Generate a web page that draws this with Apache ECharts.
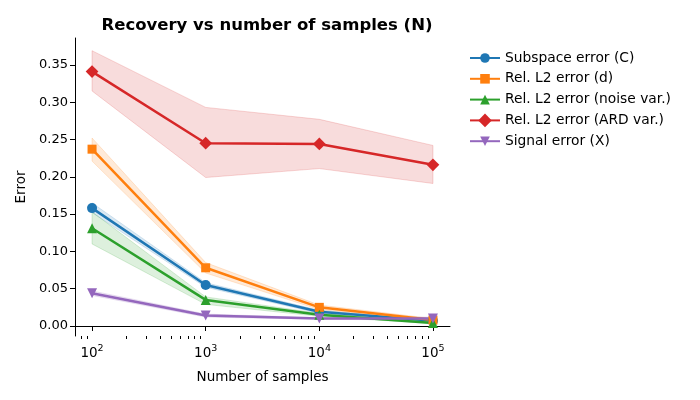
<!DOCTYPE html>
<html>
<head>
<meta charset="utf-8">
<title>Recovery vs number of samples</title>
<script src="https://cdn.jsdelivr.net/npm/echarts@6/dist/echarts.min.js"></script>
</head>
<body style="margin:0">
<div id="main" style="width:700px;height:400px;"></div>
<script type="text/javascript">
var samples = [100, 1000, 10000, 100000];

var subspaceMean = [0.158, 0.055, 0.019, 0.007];
var subspaceLo = [0.152, 0.052, 0.017, 0.006];
var subspaceHi = [0.165, 0.058, 0.021, 0.008];

var dMean = [0.237, 0.078, 0.025, 0.008];
var dLo = [0.221, 0.071, 0.022, 0.007];
var dHi = [0.252, 0.085, 0.028, 0.010];

var noiseMean = [0.131, 0.035, 0.015, 0.004];
var noiseLo = [0.110, 0.029, 0.013, 0.003];
var noiseHi = [0.153, 0.039, 0.017, 0.005];

var ardMean = [0.341, 0.245, 0.244, 0.216];
var ardLo = [0.315, 0.199, 0.211, 0.191];
var ardHi = [0.369, 0.293, 0.277, 0.242];

var signalMean = [0.044, 0.014, 0.010, 0.010];
var signalLo = [0.041, 0.012, 0.009, 0.008];
var signalHi = [0.047, 0.016, 0.011, 0.012];

var names = ['Subspace error (C)', 'Rel. L2 error (d)', 'Rel. L2 error (noise var.)',
             'Rel. L2 error (ARD var.)', 'Signal error (X)'];
var colors = ['#1f77b4', '#ff7f0e', '#2ca02c', '#d62728', '#9467bd'];
var yTicks = [0, 0.05, 0.10, 0.15, 0.20, 0.25, 0.30, 0.35];
var xMajor = [100, 1000, 10000, 100000];
var xMinor = [];
for (var e = 1; e <= 5; e++) {
    for (var k = 2; k <= 9; k++) {
        var v = k * Math.pow(10, e);
        if (v > 70 && v < 141000) xMinor.push(v);
    }
}

var allMean = [subspaceMean, dMean, noiseMean, ardMean, signalMean];
var allLo = [subspaceLo, dLo, noiseLo, ardLo, signalLo];
var allHi = [subspaceHi, dHi, noiseHi, ardHi, signalHi];
var symbols = ['circle', 'rect', 'triangle', 'rect', 'triangle'];
var rotates = [0, 0, 0, 45, 180];
var sizes = [10, 9, 10, 9, 10];

function pairs(arr) {
    return samples.map(function (x, i) { return [x, arr[i]]; });
}
function hexA(hex, a) {
    var r = parseInt(hex.slice(1, 3), 16), g = parseInt(hex.slice(3, 5), 16), b = parseInt(hex.slice(5, 7), 16);
    return 'rgba(' + r + ',' + g + ',' + b + ',' + a + ')';
}

// fill_between style band drawn as one polygon through the axis scales
function bandRenderer(lo, hi, color) {
    return function (params, api) {
        if (params.dataIndex !== 0) return;
        var pts = [];
        for (var j = 0; j < samples.length; j++) pts.push(api.coord([samples[j], hi[j]]));
        for (var j = samples.length - 1; j >= 0; j--) pts.push(api.coord([samples[j], lo[j]]));
        return {
            type: 'polygon',
            shape: { points: pts },
            style: { fill: hexA(color, 0.16), stroke: hexA(color, 0.18), lineWidth: 1 }
        };
    };
}

var series = [];
for (var i = 0; i < 5; i++) {
    series.push({
        name: 'band' + i, type: 'custom', z: 1, silent: true,
        renderItem: bandRenderer(allLo[i], allHi[i], colors[i]),
        data: pairs(allMean[i])
    });
}
for (var i = 0; i < 5; i++) {
    series.push({
        name: names[i], type: 'line', data: pairs(allMean[i]), z: 3,
        symbol: symbols[i], symbolRotate: rotates[i], symbolSize: sizes[i],
        color: colors[i],
        lineStyle: { width: 2.5, color: colors[i] },
        itemStyle: { color: colors[i] }
    });
}

var chart = echarts.init(document.getElementById('main'));
chart.setOption({
    animation: false,
    backgroundColor: '#fff',
    textStyle: { fontFamily: 'DejaVu Sans' },
    title: {
        text: 'Recovery vs number of samples (N)',
        left: 262, top: 12, textAlign: 'center',
        textStyle: { fontFamily: 'DejaVu Sans', fontSize: 16.5, fontWeight: 'bold', color: '#000' }
    },
    legend: {
        data: names, orient: 'vertical', left: 464, top: 46,
        itemWidth: 30, itemHeight: 12, itemGap: 6.8,
        textStyle: { fontFamily: 'DejaVu Sans', fontSize: 13.8, color: '#000' }
    },
    grid: { left: 75, top: 38, right: 250, bottom: 64 },
    xAxis: [{
        type: 'log', min: 70.8, max: 141254,
        name: 'Number of samples', nameLocation: 'middle', nameGap: 34,
        nameTextStyle: { fontFamily: 'DejaVu Sans', fontSize: 13.5, color: '#000' },
        axisLine: { lineStyle: { color: '#000', width: 1 } },
        axisTick: { customValues: xMajor, length: 5, lineStyle: { color: '#000' } },
        axisLabel: {
            customValues: xMajor, margin: 8,
            formatter: function (v) {
                return '{b|10}{s|' + Math.round(Math.log10(v)) + '}';
            },
            rich: {
                b: { fontSize: 13.5, color: '#000', fontFamily: 'DejaVu Sans' },
                s: { fontSize: 9.5, color: '#000', fontFamily: 'DejaVu Sans', padding: [0, 0, 8, 0] }
            }
        },
        splitLine: { show: false }
    }, {
        type: 'log', min: 70.8, max: 141254, position: 'bottom',
        axisLine: { show: false },
        axisTick: { customValues: xMinor, length: 3, lineStyle: { color: '#000' } },
        axisLabel: { show: false },
        splitLine: { show: false }
    }],
    yAxis: {
        type: 'value', min: -0.0134, max: 0.386,
        name: 'Error', nameLocation: 'middle', nameGap: 44,
        nameTextStyle: { fontFamily: 'DejaVu Sans', fontSize: 13.5, color: '#000' },
        axisLine: { show: true, lineStyle: { color: '#000', width: 1 } },
        axisTick: { show: true, customValues: yTicks, length: 5, lineStyle: { color: '#000' } },
        axisLabel: {
            customValues: yTicks, fontSize: 13, color: '#000', margin: 7,
            formatter: function (v) { return v.toFixed(2); }
        },
        splitLine: { show: false }
    },
    series: series
});
</script>
</body>
</html>
